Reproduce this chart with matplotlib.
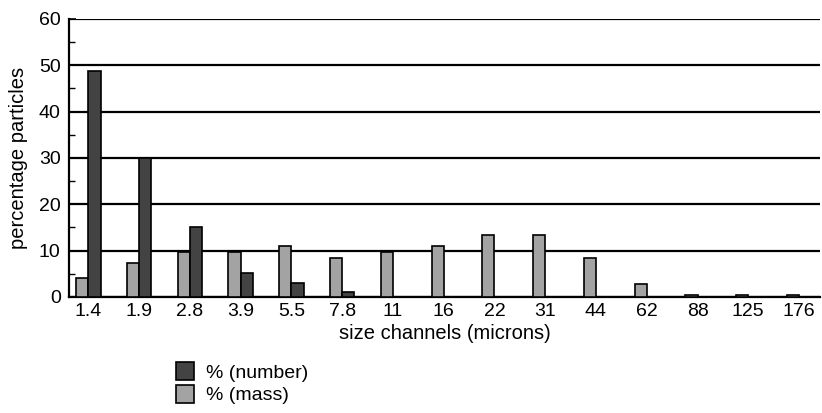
import numpy as np
import matplotlib
matplotlib.use("Agg")
import matplotlib.pyplot as plt
from matplotlib.patches import Patch

plt.rcParams['font.family'] = ['Liberation Sans', 'DejaVu Sans']

channels = ['1.4', '1.9', '2.8', '3.9', '5.5', '7.8', '11', '16', '22', '31', '44', '62', '88', '125', '176']
pct_number = [48.7, 30, 15, 5.2, 3, 1.1, 0, 0, 0, 0, 0, 0, 0, 0, 0]
pct_mass = [4.1, 7.3, 9.8, 9.8, 11, 8.4, 9.8, 11, 13.4, 13.4, 8.4, 2.8, 0.4, 0.4, 0.4]

dark = '#434343'
light = '#a3a3a3'

fig = plt.figure(figsize=(8.22, 4.13), dpi=100)
ax = fig.add_axes([0.0840, 0.281, 0.914, 0.673])

x = np.arange(len(channels))
w = 0.24
ax.bar(x - w / 2, pct_mass, w, color=light, edgecolor='black', linewidth=1.2, zorder=3)
ax.bar(x + w / 2, pct_number, w, color=dark, edgecolor='black', linewidth=1.2, zorder=3)

ax.set_ylim(0, 60)
ax.set_xlim(-0.38, 14.42)
ax.set_yticks(range(0, 61, 10))
ax.set_yticks(range(5, 60, 10), minor=True)
ax.yaxis.grid(True, which='major', color='black', linewidth=1.6, zorder=1)
ax.set_xticks(x)
ax.set_xticklabels(channels)
ax.tick_params(axis='x', labelsize=14, length=0, pad=4)
ax.tick_params(axis='y', which='major', labelsize=14, direction='in', length=5, width=1.2, pad=6)
ax.tick_params(axis='y', which='minor', direction='in', length=4, width=1)

for s in ['top', 'right']:
    ax.spines[s].set_visible(False)
for s in ['left', 'bottom']:
    ax.spines[s].set_linewidth(1.6)

ax.set_ylabel('percentage particles', fontsize=14.5, labelpad=8)
ax.set_xlabel('size channels (microns)', fontsize=14.5, labelpad=3)

handles = [Patch(facecolor=dark, edgecolor='black', linewidth=1.2, label='% (number)'),
           Patch(facecolor=light, edgecolor='black', linewidth=1.2, label='% (mass)')]
fig.legend(handles=handles, loc='lower left', bbox_to_anchor=(0.197, -0.012), frameon=False,
           fontsize=14, handlelength=0.95, handleheight=1.05, handletextpad=0.6,
           labelspacing=0.15, borderpad=0.2)

fig.savefig('out.png', dpi=100)
